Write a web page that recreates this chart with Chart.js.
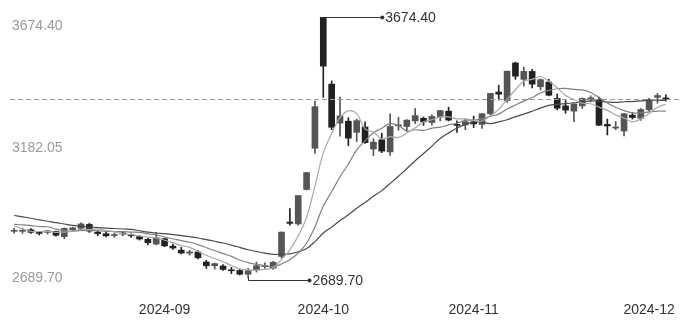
<!DOCTYPE html>
<html>
<head>
<meta charset="utf-8">
<script src="https://cdn.jsdelivr.net/npm/chart.js@4.4.1/dist/chart.umd.min.js"></script>
<style>
  html, body { margin: 0; padding: 0; background: #fff; }
  #wrap { width: 690px; height: 324px; }
</style>
</head>
<body>
<div id="wrap"><canvas id="kline"></canvas></div>
<script>
// ── Data ──

const dates = [
  '2024-08-07','2024-08-08','2024-08-09','2024-08-12','2024-08-13','2024-08-14','2024-08-15','2024-08-16','2024-08-19','2024-08-20',
  '2024-08-21','2024-08-22','2024-08-23','2024-08-26','2024-08-27','2024-08-28','2024-08-29','2024-08-30',
  '2024-09-02','2024-09-03','2024-09-04','2024-09-05','2024-09-06','2024-09-09','2024-09-10','2024-09-11','2024-09-12','2024-09-13',
  '2024-09-18','2024-09-19','2024-09-20','2024-09-23','2024-09-24','2024-09-25','2024-09-26','2024-09-27','2024-09-30',
  '2024-10-08','2024-10-09','2024-10-10','2024-10-11','2024-10-14','2024-10-15','2024-10-16','2024-10-17','2024-10-18',
  '2024-10-21','2024-10-22','2024-10-23','2024-10-24','2024-10-25','2024-10-28','2024-10-29','2024-10-30','2024-10-31',
  '2024-11-01','2024-11-04','2024-11-05','2024-11-06','2024-11-07','2024-11-08','2024-11-11','2024-11-12','2024-11-13','2024-11-14',
  '2024-11-15','2024-11-18','2024-11-19','2024-11-20','2024-11-21','2024-11-22','2024-11-25','2024-11-26','2024-11-27','2024-11-28',
  '2024-11-29','2024-12-02','2024-12-03','2024-12-04'
];

const opens = [
  2866, 2866, 2872, 2862, 2862, 2866, 2846, 2872, 2877, 2892,
  2863, 2857, 2850, 2858, 2853, 2846, 2836, 2818,
  2838, 2810, 2795, 2784, 2788, 2750, 2736, 2735, 2719, 2718,
  2704, 2720, 2733, 2727, 2771, 2901, 2894, 3024, 3180,
  3674.40, 3422, 3275, 3282, 3240, 3260, 3177, 3212, 3166,
  3264, 3262, 3283, 3293, 3277, 3298, 3320, 3270, 3268,
  3280, 3270, 3310, 3392, 3360, 3502, 3440, 3470, 3412, 3430,
  3368, 3340, 3320, 3340, 3364, 3364, 3270, 3256, 3245, 3305,
  3293, 3325, 3372, 3370
];

const closes = [
  2870, 2870, 2862, 2858, 2868, 2851, 2877, 2879, 2894, 2867,
  2857, 2849, 2854, 2856, 2849, 2837, 2823, 2842,
  2811, 2803, 2784, 2788, 2766, 2736, 2744, 2722, 2717, 2704,
  2717, 2736, 2737, 2749, 2863, 2896, 3001, 3088, 3337,
  3490, 3259, 3302, 3218, 3284, 3201, 3203, 3169, 3262,
  3268, 3286, 3303, 3280, 3300, 3322, 3286, 3266, 3280,
  3272, 3310, 3387, 3384, 3471, 3452, 3470, 3422, 3439, 3380,
  3331, 3324, 3346, 3368, 3370, 3267, 3264, 3260, 3310, 3296,
  3326, 3364, 3379, 3365
];

const highs = [
  2878, 2878, 2876, 2866, 2870, 2867, 2879, 2882, 2898, 2896,
  2868, 2862, 2860, 2865, 2857, 2851, 2840, 2862,
  2840, 2818, 2806, 2795, 2794, 2757, 2746, 2740, 2730, 2722,
  2726, 2750, 2747, 2753, 2864, 2952, 3001, 3088, 3358,
  3674.40, 3434, 3373, 3295, 3290, 3280, 3216, 3237, 3310,
  3297, 3288, 3330, 3298, 3306, 3323, 3335, 3283, 3290,
  3301, 3312, 3387, 3418, 3471, 3505, 3486, 3478, 3442, 3440,
  3385, 3360, 3348, 3370, 3378, 3373, 3290, 3281, 3312, 3315,
  3330, 3368, 3387, 3382
];

const lows = [
  2859, 2858, 2858, 2852, 2856, 2848, 2838, 2866, 2870, 2862,
  2850, 2845, 2843, 2850, 2843, 2833, 2815, 2815,
  2808, 2798, 2781, 2776, 2762, 2726, 2723, 2718, 2706, 2701,
  2689.70, 2712, 2726, 2722, 2765, 2889, 2889, 3022, 3160,
  3372, 3250, 3225, 3190, 3205, 3198, 3152, 3163, 3153,
  3248, 3243, 3273, 3266, 3267, 3283, 3283, 3240, 3250,
  3258, 3255, 3306, 3362, 3353, 3440, 3415, 3408, 3400, 3377,
  3325, 3312, 3280, 3330, 3355, 3265, 3230, 3250, 3226, 3290,
  3285, 3320, 3350, 3358
];

const ma5 = [
  2887.0, 2874.6, 2866.0, 2865.4, 2865.6, 2861.8, 2863.2, 2866.6, 2873.8, 2873.6,
  2874.8, 2869.2, 2864.2, 2856.6, 2853.0, 2849.0, 2843.8, 2841.4,
  2832.4, 2823.2, 2812.6, 2805.6, 2790.4, 2775.4, 2763.6, 2751.2, 2737.0, 2724.6,
  2720.8, 2719.2, 2722.2, 2728.6, 2760.4, 2796.2, 2849.2, 2919.4, 3037.0,
  3162.4, 3235.0, 3295.2, 3321.2, 3310.6, 3252.8, 3241.6, 3215.0, 3223.8,
  3220.6, 3237.6, 3257.6, 3279.8, 3287.4, 3298.2, 3298.2, 3290.8, 3290.8,
  3285.2, 3282.8, 3303.0, 3326.6, 3364.8, 3400.8, 3432.8, 3439.8, 3450.8, 3432.6,
  3408.4, 3379.2, 3364.0, 3349.8, 3347.8, 3335.0, 3323.0, 3305.8, 3294.2, 3279.4,
  3291.2, 3311.2, 3335.0, 3346.0
];

const ma10 = [
  2892.3, 2890.6, 2887.7, 2884.3, 2883.2, 2874.4, 2868.9, 2866.3, 2869.6, 2869.6,
  2868.3, 2866.2, 2865.4, 2865.2, 2863.3, 2861.9, 2856.5, 2852.8,
  2844.5, 2838.1, 2830.8, 2824.7, 2815.9, 2803.9, 2793.4, 2781.9, 2771.3, 2757.5,
  2748.1, 2741.4, 2736.7, 2732.8, 2742.5, 2758.5, 2784.2, 2820.8, 2882.8,
  2961.4, 3015.6, 3072.2, 3120.3, 3173.8, 3207.6, 3238.3, 3255.1, 3272.5,
  3265.6, 3245.2, 3249.6, 3247.4, 3255.6, 3259.4, 3267.9, 3274.2, 3285.3,
  3286.3, 3290.5, 3300.6, 3308.7, 3327.8, 3343.0, 3357.8, 3371.4, 3388.7, 3398.7,
  3404.6, 3406.0, 3401.9, 3400.3, 3390.2, 3371.7, 3351.1, 3334.9, 3322.0, 3313.6,
  3313.1, 3317.1, 3320.4, 3320.1
];

const ma20 = [
  2925.9, 2920.9, 2915.4, 2909.6, 2904.2, 2898.6, 2893.6, 2888.5, 2885.0, 2882.6,
  2880.3, 2878.4, 2876.6, 2874.8, 2873.3, 2868.2, 2862.7, 2859.6,
  2857.1, 2853.9, 2849.6, 2845.5, 2840.7, 2834.6, 2828.4, 2821.9, 2813.9, 2805.2,
  2796.3, 2789.8, 2783.8, 2778.8, 2779.2, 2781.2, 2788.8, 2801.4, 2827.1,
  2859.5, 2881.9, 2906.8, 2928.5, 2953.3, 2975.1, 2998.4, 3019.7, 3046.7,
  3074.2, 3103.3, 3132.6, 3159.8, 3188.0, 3216.6, 3237.8, 3256.3, 3270.2,
  3279.4, 3278.1, 3272.9, 3279.2, 3287.6, 3299.3, 3308.6, 3319.7, 3331.5, 3342.0,
  3345.5, 3348.3, 3351.3, 3354.5, 3359.0, 3357.4, 3354.5, 3353.2, 3355.4, 3356.2,
  3358.9, 3361.6, 3361.2, 3360.2
];

const yTicks = [2689.70, 3182.05, 3674.40];

// ── Helpers ──

const UP = '#555555';
const DOWN = '#222222';
const FONT = '"Liberation Sans", Arial, sans-serif';
const candleColor = ctx => (closes[ctx.dataIndex] >= opens[ctx.dataIndex] ? UP : DOWN);

const bodies = opens.map((o, i) => [o, closes[i]]);
const wicks = lows.map((l, i) => [l, highs[i]]);

// max / min marks + last-close dashed line
const markPlugin = {
  id: 'marks',
  afterDatasetsDraw(chart) {
    const { ctx, chartArea, scales: { x, y } } = chart;
    ctx.save();

    // dashed line at last close
    const yl = Math.round(y.getPixelForValue(closes[closes.length - 1])) + 0.5;
    ctx.strokeStyle = '#999';
    ctx.lineWidth = 1;
    ctx.setLineDash([5, 3]);
    ctx.beginPath();
    ctx.moveTo(chartArea.left, yl);
    ctx.lineTo(chart.width - 10, yl);
    ctx.stroke();
    ctx.setLineDash([]);

    const iMax = highs.indexOf(Math.max(...highs));
    const iMin = lows.indexOf(Math.min(...lows));
    ctx.strokeStyle = '#333';
    ctx.fillStyle = '#333';
    ctx.font = '14px ' + FONT;
    ctx.textBaseline = 'middle';

    // max
    let px = x.getPixelForValue(iMax) - 3;
    let py = Math.round(y.getPixelForValue(highs[iMax])) + 0.5;
    ctx.beginPath();
    ctx.moveTo(px, py);
    ctx.lineTo(px + 62, py);
    ctx.stroke();
    ctx.beginPath();
    ctx.arc(px + 62, py, 2, 0, Math.PI * 2);
    ctx.fill();
    ctx.fillText(highs[iMax].toFixed(2), px + 65, py + 1);

    // min
    px = Math.round(x.getPixelForValue(iMin)) + 0.5;
    py = Math.round(y.getPixelForValue(lows[iMin])) + 2.5;
    ctx.beginPath();
    ctx.moveTo(px, py - 3);
    ctx.lineTo(px, py);
    ctx.lineTo(px + 61, py);
    ctx.stroke();
    ctx.beginPath();
    ctx.arc(px + 61, py, 2, 0, Math.PI * 2);
    ctx.fill();
    ctx.fillText(lows[iMin].toFixed(2), px + 64, py + 1);

    ctx.restore();
  }
};

// ── Chart ──

const maLine = (label, data, color) => ({
  type: 'line',
  label,
  data,
  borderColor: color,
  borderWidth: 1.2,
  pointRadius: 0,
  tension: 0.4,
  fill: false,
  order: 0
});

new Chart(document.getElementById('kline'), {
  data: {
    labels: dates,
    datasets: [
      maLine('MA5', ma5, '#a8a8a8'),
      maLine('MA10', ma10, '#808080'),
      maLine('MA20', ma20, '#4a4a4a'),
      {
        type: 'bar',
        label: 'wick',
        data: wicks,
        backgroundColor: candleColor,
        barThickness: 1,
        grouped: false,
        order: 2
      },
      {
        type: 'bar',
        label: 'body',
        data: bodies,
        backgroundColor: candleColor,
        barThickness: 6,
        minBarLength: 1,
        grouped: false,
        order: 1
      }
    ]
  },
  options: {
    responsive: true,
    maintainAspectRatio: false,
    animation: false,
    layout: { padding: { left: 6, right: 20, top: 10, bottom: 0 } },
    plugins: { legend: { display: false }, tooltip: { enabled: false } },
    scales: {
      x: {
        offset: true,
        grid: { display: false, drawTicks: false },
        border: { display: false },
        afterFit: s => { s.height = 34; },
        ticks: {
          autoSkip: false,
          maxRotation: 0,
          padding: 12,
          color: '#333',
          font: { size: 14, family: FONT },
          callback: (v, i) => {
            if (i === 0) return '';
            const m = dates[i].slice(0, 7);
            return m !== dates[i - 1].slice(0, 7) ? m : '';
          }
        }
      },
      y: {
        min: 2644.4,
        max: 3702.0,
        grid: { display: false, drawTicks: false },
        border: { display: false },
        afterBuildTicks: s => { s.ticks = yTicks.map(v => ({ value: v })); },
        afterFit: s => { s.paddingTop = 0; s.paddingBottom = 0; },
        ticks: {
          mirror: true,
          padding: 2,
          color: '#999',
          font: { size: 14, family: FONT },
          callback: v => (v === yTicks[2] ? ['', v.toFixed(2)] : v.toFixed(2))
        }
      }
    }
  },
  plugins: [markPlugin]
});
</script>
</body>
</html>
